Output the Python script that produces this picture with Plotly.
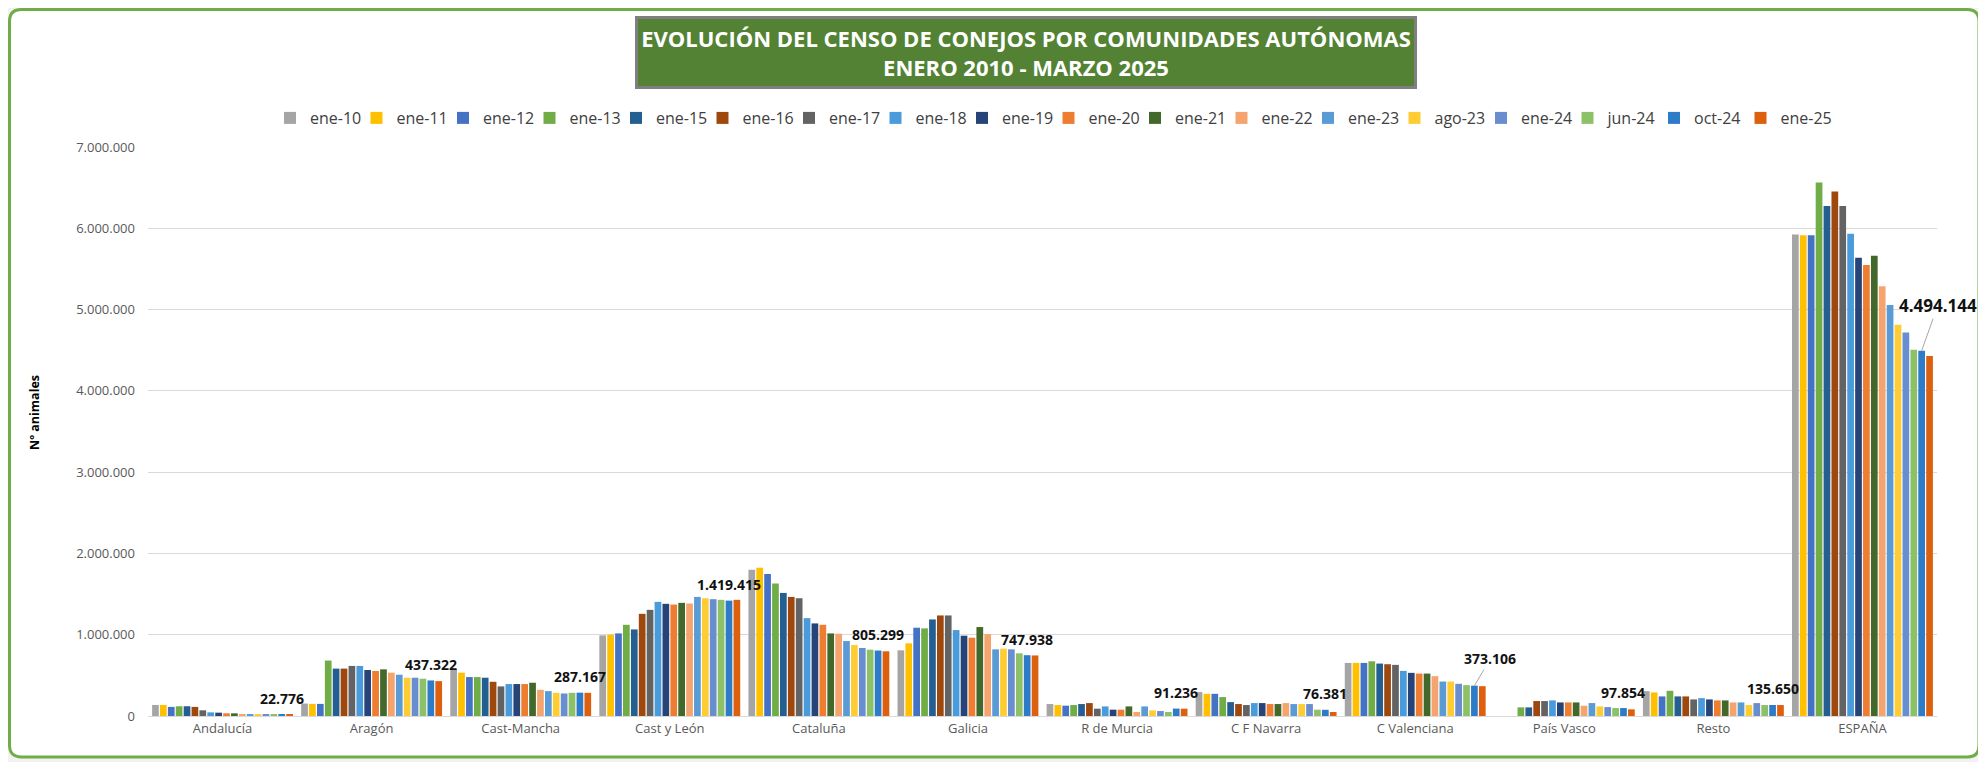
import plotly.graph_objects as go

###
# datos
series = ["ene-10", "ene-11", "ene-12", "ene-13", "ene-15", "ene-16", "ene-17", "ene-18", "ene-19",
          "ene-20", "ene-21", "ene-22", "ene-23", "ago-23", "ene-24", "jun-24", "oct-24", "ene-25"]
colors = ["#A5A5A5", "#FFC000", "#4472C4", "#70AD47", "#255E91", "#9E480E", "#636363", "#4A9BDC", "#264478",
          "#ED7D31", "#43682B", "#F4A46C", "#5B9BD5", "#FFCD33", "#698ED0", "#8CC168", "#2E7BC8", "#DD600E"]

categories = ["Andalucía", "Aragón", "Cast-Mancha", "Cast y León", "Cataluña", "Galicia",
              "R de Murcia", "C F Navarra", "C Valenciana", "País Vasco", "Resto", "ESPAÑA"]

andalucia = [136000, 136000, 112000, 120000, 120000, 112000, 70000, 45000, 41000, 33000, 33000, 25000, 24000, 23000, 23000, 23000, 22776, 22000]
aragon = [153000, 149000, 149000, 682000, 583000, 583000, 616000, 616000, 566000, 554000, 574000, 533000, 508000, 471000, 471000, 459000, 437322, 429000]
cast_mancha = [578000, 533000, 479000, 479000, 471000, 421000, 364000, 393000, 393000, 393000, 409000, 322000, 306000, 285000, 277000, 285000, 287167, 285000]
cast_leon = [992000, 1000000, 1016000, 1122000, 1065000, 1257000, 1306000, 1404000, 1380000, 1371000, 1392000, 1384000, 1465000, 1449000, 1437000, 1429000, 1419415, 1429000]
cataluna = [1800000, 1824000, 1747000, 1629000, 1514000, 1465000, 1449000, 1204000, 1139000, 1122000, 1016000, 1012000, 922000, 873000, 837000, 816000, 805299, 796000]
galicia = [808000, 894000, 1086000, 1078000, 1188000, 1237000, 1237000, 1057000, 988000, 963000, 1094000, 1008000, 820000, 829000, 820000, 771000, 747938, 745000]
murcia = [147000, 135000, 127000, 135000, 147000, 159000, 90000, 118000, 78000, 78000, 118000, 49000, 118000, 69000, 61000, 49000, 91236, 90000]
navarra = [294000, 273000, 273000, 233000, 171000, 147000, 135000, 159000, 159000, 147000, 147000, 159000, 147000, 147000, 147000, 78000, 76381, 49000]
valenciana = [653000, 653000, 653000, 673000, 645000, 637000, 629000, 555000, 531000, 522000, 522000, 490000, 424000, 424000, 396000, 380000, 373106, 367000]
pais_vasco = [None, None, None, 106000, 106000, 184000, 184000, 192000, 167000, 167000, 167000, 127000, 159000, 118000, 110000, 98000, 97854, 82000]
resto = [306000, 290000, 241000, 310000, 241000, 241000, 204000, 220000, 204000, 192000, 192000, 167000, 167000, 135000, 159000, 135000, 135650, 135000]
espana = [5923000, 5913000, 5913000, 6564000, 6275000, 6453000, 6275000, 5933000, 5639000, 5547000, 5663000, 5287000, 5055000, 4814000, 4718000, 4506000, 4494144, 4429000]

rows = [andalucia, aragon, cast_mancha, cast_leon, cataluna, galicia,
        murcia, navarra, valenciana, pais_vasco, resto, espana]

label_series = "oct-24"   # la serie con etiquetas de datos

###
# tamaño / márgenes (la página tiene 8px de margen en el body)
OFF = 8
W, H = 1986 - OFF, 762 - OFF
L, R, T, B = 148 - OFF, 49, 147 - OFF, 46
PW, PH = W - L - R, H - T - B
BARGAP, GROUPGAP = 0.047, 0.15

# coordenadas de pantalla -> paper
def px(x):
  return (x - OFF - L) / PW

def py(y):
  return (H - B - (y - OFF)) / PH

def rounded_rect(x0, y0, x1, y1, r):
  pts = [
    ("M", x0 + r, y0), ("L", x1 - r, y0), ("Q", x1, y0, x1, y0 + r), ("L", x1, y1 - r),
    ("Q", x1, y1, x1 - r, y1), ("L", x0 + r, y1), ("Q", x0, y1, x0, y1 - r), ("L", x0, y0 + r),
    ("Q", x0, y0, x0 + r, y0),
  ]
  s = ""
  for p in pts:
    v = p[1:]
    pairs = ["{:.5f},{:.5f}".format(px(v[i]), py(v[i + 1])) for i in range(0, len(v), 2)]
    s += p[0] + " " + " ".join(pairs) + " "
  return s + "Z"

###
fig = go.Figure()
for i, name in enumerate(series):
  fig.add_trace(go.Bar(
    x=categories,
    y=[row[i] for row in rows],
    name=name,
    marker=dict(color=colors[i], line=dict(width=0)),
    legendwidth=70 if i == len(series) - 1 else None,
  ))

# desplazamiento de la barra etiquetada dentro de su grupo
k = series.index(label_series)
slot = PW / len(categories) * (1 - BARGAP) / len(series)
xoff = (k + 0.5 - len(series) / 2) * slot

label_vals = [row[k] for row in rows]
annotations = []
for cat, v in zip(categories, label_vals):
  txt = "{:,}".format(v).replace(",", ".")
  a = dict(x=cat, y=v, xref="x", yref="y", text=txt, xshift=xoff,
           font=dict(family="Open Sans", size=14, color="#111111", weight="bold"))
  if cat == "ESPAÑA":
    a.update(showarrow=True, ax=16, ay=-45, arrowhead=0, arrowwidth=1, arrowcolor="#A6A6A6", standoff=0)
    a["font"]["size"] = 17
  elif cat == "C Valenciana":
    a.update(showarrow=True, ax=16, ay=-27, arrowhead=0, arrowwidth=1, arrowcolor="#A6A6A6", standoff=0)
  else:
    a.update(showarrow=False, yshift=16)
  annotations.append(a)

# título en caja verde
annotations.append(dict(
  x=px(1026), y=py(52.5), xref="paper", yref="paper", xanchor="center", yanchor="middle",
  text="EVOLUCIÓN DEL CENSO DE CONEJOS POR COMUNIDADES AUTÓNOMAS<br>ENERO 2010 - MARZO 2025",
  showarrow=False, font=dict(family="Open Sans", size=22, color="white", weight="bold"),
  bgcolor="#548235", bordercolor="#7F7F7F", borderwidth=3, width=774, height=65,
))
# título del eje Y
annotations.append(dict(
  x=px(34), y=py(412), xref="paper", yref="paper", xanchor="center", yanchor="middle",
  text="Nº animales", textangle=-90, showarrow=False,
  font=dict(family="Open Sans", size=12.5, color="#000000", weight="bold"),
))

fig.update_layout(
  width=W, height=H,
  margin=dict(l=L, r=R, t=T, b=B),
  separators=",.",
  barmode="group", bargap=BARGAP, bargroupgap=GROUPGAP,
  paper_bgcolor="#F2F2F2", plot_bgcolor="rgba(0,0,0,0)",
  font=dict(family="Open Sans", color="#595959"),
  showlegend=True,
  legend=dict(orientation="h", x=px(270), xanchor="left", y=py(118), yanchor="middle",
              font=dict(size=16, color="#404040"), entrywidth=41.5, bgcolor="rgba(0,0,0,0)"),
  annotations=annotations,
  shapes=[dict(type="path", xref="paper", yref="paper", layer="below",
               path=rounded_rect(9.5, 9.5, 1979, 757, 12),
               line=dict(color="#70AD47", width=3), fillcolor="white")],
)
fig.update_yaxes(range=[0, 7000000], dtick=1000000, tickformat=",d",
                 gridcolor="#D9D9D9", gridwidth=1, zeroline=False, showline=False,
                 tickfont=dict(size=13, color="#595959"), ticklabelstandoff=12)
fig.update_xaxes(range=[-0.5, len(categories) - 0.5],
                 showline=True, linecolor="#D9D9D9", linewidth=1, ticks="",
                 tickfont=dict(size=13, color="#595959"))

fig.write_html("out.html")
